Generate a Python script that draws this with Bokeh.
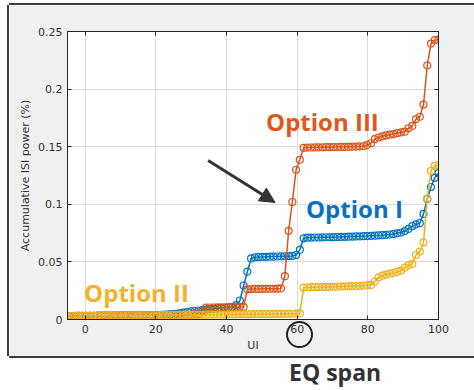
from bokeh.plotting import figure
from bokeh.models import Range1d, FixedTicker, LinearAxis, Label, Arrow, NormalHead, Div, ColumnDataSource
from bokeh.layouts import column
from bokeh.embed import file_html
from bokeh.resources import INLINE

# ---------------- data ----------------
ui = [-5.00, -3.94, -2.88, -1.82, -0.76, 0.30, 1.36, 2.42, 3.48, 4.55,
      5.61, 6.67, 7.73, 8.79, 9.85, 10.91, 11.97, 13.03, 14.09, 15.15,
      16.21, 17.27, 18.33, 19.39, 20.45, 21.52, 22.58, 23.64, 24.70, 25.76,
      26.82, 27.88, 28.94, 30.00, 31.06, 32.12, 33.18, 34.24, 35.30, 36.36,
      37.42, 38.48, 39.55, 40.61, 41.67, 42.73, 43.79, 44.85, 45.91, 46.97,
      48.03, 49.09, 50.15, 51.21, 52.27, 53.33, 54.39, 55.45, 56.52, 57.58,
      58.64, 59.70, 60.76, 61.82, 62.88, 63.94, 65.00, 66.06, 67.12, 68.18,
      69.24, 70.30, 71.36, 72.42, 73.48, 74.55, 75.61, 76.67, 77.73, 78.79,
      79.85, 80.91, 81.97, 83.03, 84.09, 85.15, 86.21, 87.27, 88.33, 89.39,
      90.45, 91.52, 92.58, 93.64, 94.70, 95.76, 96.82, 97.88, 98.94, 100.00]

option_1 = [0.0030, 0.0030, 0.0031, 0.0031, 0.0031, 0.0032, 0.0032, 0.0032, 0.0033, 0.0033,
            0.0033, 0.0034, 0.0034, 0.0034, 0.0035, 0.0035, 0.0035, 0.0036, 0.0036, 0.0037,
            0.0037, 0.0038, 0.0038, 0.0039, 0.0040, 0.0041, 0.0042, 0.0044, 0.0046, 0.0050,
            0.0055, 0.0060, 0.0065, 0.0070, 0.0074, 0.0078, 0.0082, 0.0086, 0.0090, 0.0093,
            0.0096, 0.0099, 0.0102, 0.0105, 0.0108, 0.0125, 0.0165, 0.0295, 0.0415, 0.0530,
            0.0540, 0.0542, 0.0543, 0.0544, 0.0545, 0.0546, 0.0547, 0.0548, 0.0549, 0.0550,
            0.0552, 0.0560, 0.0605, 0.0705, 0.0710, 0.0711, 0.0712, 0.0712, 0.0713, 0.0714,
            0.0714, 0.0715, 0.0716, 0.0717, 0.0718, 0.0719, 0.0720, 0.0721, 0.0722, 0.0723,
            0.0724, 0.0726, 0.0728, 0.0730, 0.0732, 0.0735, 0.0738, 0.0742, 0.0748, 0.0755,
            0.0768, 0.0787, 0.0810, 0.0825, 0.0836, 0.0917, 0.1047, 0.1150, 0.1230, 0.1270]

option_2 = [0.0030, 0.0030, 0.0031, 0.0031, 0.0031, 0.0032, 0.0032, 0.0032, 0.0033, 0.0033,
            0.0033, 0.0034, 0.0034, 0.0034, 0.0035, 0.0035, 0.0035, 0.0035, 0.0036, 0.0036,
            0.0036, 0.0036, 0.0037, 0.0037, 0.0037, 0.0038, 0.0038, 0.0038, 0.0039, 0.0039,
            0.0039, 0.0040, 0.0040, 0.0040, 0.0041, 0.0041, 0.0041, 0.0042, 0.0042, 0.0042,
            0.0043, 0.0043, 0.0043, 0.0044, 0.0044, 0.0044, 0.0045, 0.0045, 0.0045, 0.0046,
            0.0046, 0.0046, 0.0047, 0.0047, 0.0047, 0.0048, 0.0048, 0.0048, 0.0049, 0.0049,
            0.0050, 0.0051, 0.0053, 0.0276, 0.0280, 0.0281, 0.0281, 0.0282, 0.0282, 0.0283,
            0.0283, 0.0284, 0.0285, 0.0286, 0.0287, 0.0288, 0.0289, 0.0291, 0.0292, 0.0294,
            0.0296, 0.0300, 0.0330, 0.0365, 0.0380, 0.0390, 0.0398, 0.0405, 0.0415, 0.0425,
            0.0450, 0.0470, 0.0482, 0.0560, 0.0590, 0.0670, 0.1050, 0.1290, 0.1335, 0.1340]

option_3 = [0.0030, 0.0030, 0.0030, 0.0031, 0.0031, 0.0031, 0.0032, 0.0032, 0.0032, 0.0033,
            0.0033, 0.0033, 0.0034, 0.0034, 0.0034, 0.0035, 0.0035, 0.0035, 0.0036, 0.0036,
            0.0036, 0.0037, 0.0037, 0.0037, 0.0038, 0.0038, 0.0038, 0.0039, 0.0039, 0.0040,
            0.0040, 0.0041, 0.0042, 0.0043, 0.0044, 0.0046, 0.0070, 0.0103, 0.0104, 0.0104,
            0.0105, 0.0105, 0.0106, 0.0106, 0.0107, 0.0107, 0.0108, 0.0109, 0.0262, 0.0264,
            0.0265, 0.0265, 0.0266, 0.0266, 0.0267, 0.0267, 0.0268, 0.0270, 0.0376, 0.0770,
            0.1020, 0.1300, 0.1386, 0.1490, 0.1492, 0.1493, 0.1494, 0.1495, 0.1495, 0.1496,
            0.1496, 0.1497, 0.1497, 0.1498, 0.1498, 0.1499, 0.1500, 0.1501, 0.1502, 0.1504,
            0.1515, 0.1530, 0.1565, 0.1580, 0.1590, 0.1598, 0.1604, 0.1610, 0.1617, 0.1624,
            0.1630, 0.1660, 0.1680, 0.1740, 0.1760, 0.1866, 0.2205, 0.2395, 0.2425, 0.2430]

x_ticks = [0, 20, 40, 60, 80, 100]
x_tick_labels = ["0", "20", "40", "60", "80", "100"]
y_ticks = [0, 0.05, 0.1, 0.15, 0.2, 0.25]
y_tick_labels = ["0", "0.05", "0.1", "0.15", "0.2", "0.25"]

# ---------------- styling ----------------
C_BLUE = "#0072BD"
C_ORANGE = "#D95319"
C_YELLOW = "#EDB120"
AX_COL = "#262626"
TICK_FONT = "DejaVu Sans"

p = figure(width=465, height=351, margin=(5, 0, 0, 9),
           min_border_left=58, min_border_right=36, min_border_top=26, min_border_bottom=37,
           x_range=Range1d(-5, 100), y_range=Range1d(0, 0.25),
           output_backend="svg", toolbar_location=None,
           background_fill_color="white", border_fill_color="#F0F0F0",
           x_axis_label="UI", y_axis_label="Accumulative ISI power (%)",
           styles={"box-shadow": "-2px 0 0 #3c3c3c, 0 -2px 0 #3c3c3c, 0 2px 0 #3c3c3c"})

p.outline_line_color = AX_COL
p.outline_line_width = 1
p.outline_line_alpha = 1

for ax, ticks, labels in ((p.xaxis[0], x_ticks, x_tick_labels), (p.yaxis[0], y_ticks, y_tick_labels)):
    ax.ticker = FixedTicker(ticks=ticks)
    ax.major_label_overrides = {t: l for t, l in zip(ticks, labels)}
    ax.major_tick_in = 4
    ax.major_tick_out = 0
    ax.minor_tick_line_color = None
    ax.axis_line_color = AX_COL
    ax.major_tick_line_color = AX_COL
    ax.major_label_text_font = TICK_FONT
    ax.major_label_text_font_size = "11px"
    ax.major_label_text_color = "#333333"
    ax.axis_label_text_font = TICK_FONT
    ax.axis_label_text_font_size = "11px"
    ax.axis_label_text_font_style = "normal"
    ax.axis_label_text_color = "#333333"
p.xaxis[0].axis_label_standoff = 3
p.yaxis[0].axis_label_standoff = 3

# mirrored tick marks on the top and right edges (no labels drawn)
for side, ticks in (("above", x_ticks), ("right", y_ticks)):
    ax = LinearAxis(ticker=FixedTicker(ticks=ticks), major_tick_in=4, major_tick_out=0,
                    minor_tick_line_color=None, axis_line_color=AX_COL,
                    major_tick_line_color=AX_COL, major_label_text_color=None,
                    major_label_text_font_size="1px", major_label_standoff=0)
    p.add_layout(ax, side)

p.xgrid.ticker = FixedTicker(ticks=x_ticks)
p.ygrid.ticker = FixedTicker(ticks=y_ticks)
p.grid.grid_line_color = "#DCDCDC"
p.grid.grid_line_width = 1

src = ColumnDataSource(dict(ui=ui, o1=option_1, o2=option_2, o3=option_3))
for col, color in (("o1", C_BLUE), ("o3", C_ORANGE), ("o2", C_YELLOW)):
    p.line("ui", col, source=src, line_color=color, line_width=1.5)
    p.scatter("ui", col, source=src, marker="circle", size=7, fill_color=None,
              line_color=color, line_width=1.2)

ANN_FONT = "Open Sans"
for txt, x, y, color in (("Option III", 51.2, 0.1721, "#E3561B"),
                         ("Option I", 62.5, 0.0961, "#0A70C0"),
                         ("Option II", -0.3, 0.0237, "#F2B32A")):
    p.add_layout(Label(x=x, y=y, text=txt, text_font=ANN_FONT, text_font_style="bold",
                       text_font_size="24px", text_color=color, text_align="left",
                       text_baseline="alphabetic"))

p.add_layout(Arrow(end=NormalHead(size=15, fill_color="#333333", line_color="#333333"),
                   x_start=34.8, y_start=0.138, x_end=53.75, y_end=0.1016,
                   line_width=3, line_color="#333333"))

# caption below the figure; it also carries the circle drawn round the "60" tick label
caption = Div(text='<div style="position:relative; height:0;">'
                   '<div style="position:absolute; left:281px; top:-40px; width:27px; height:27px; '
                   'border:2px solid #222222; border-radius:50%;"></div></div>'
                   '<div style="margin-left:284px; padding-top:0px; font-family:\'Open Sans\'; '
                   'font-weight:bold; font-size:23px; line-height:22px; color:#333333; '
                   'white-space:nowrap;">EQ span</div>',
              width=474, height=34, styles={"overflow": "visible"})

layout = column(p, caption, spacing=0)
open("out.html", "w").write(file_html(layout, INLINE))
